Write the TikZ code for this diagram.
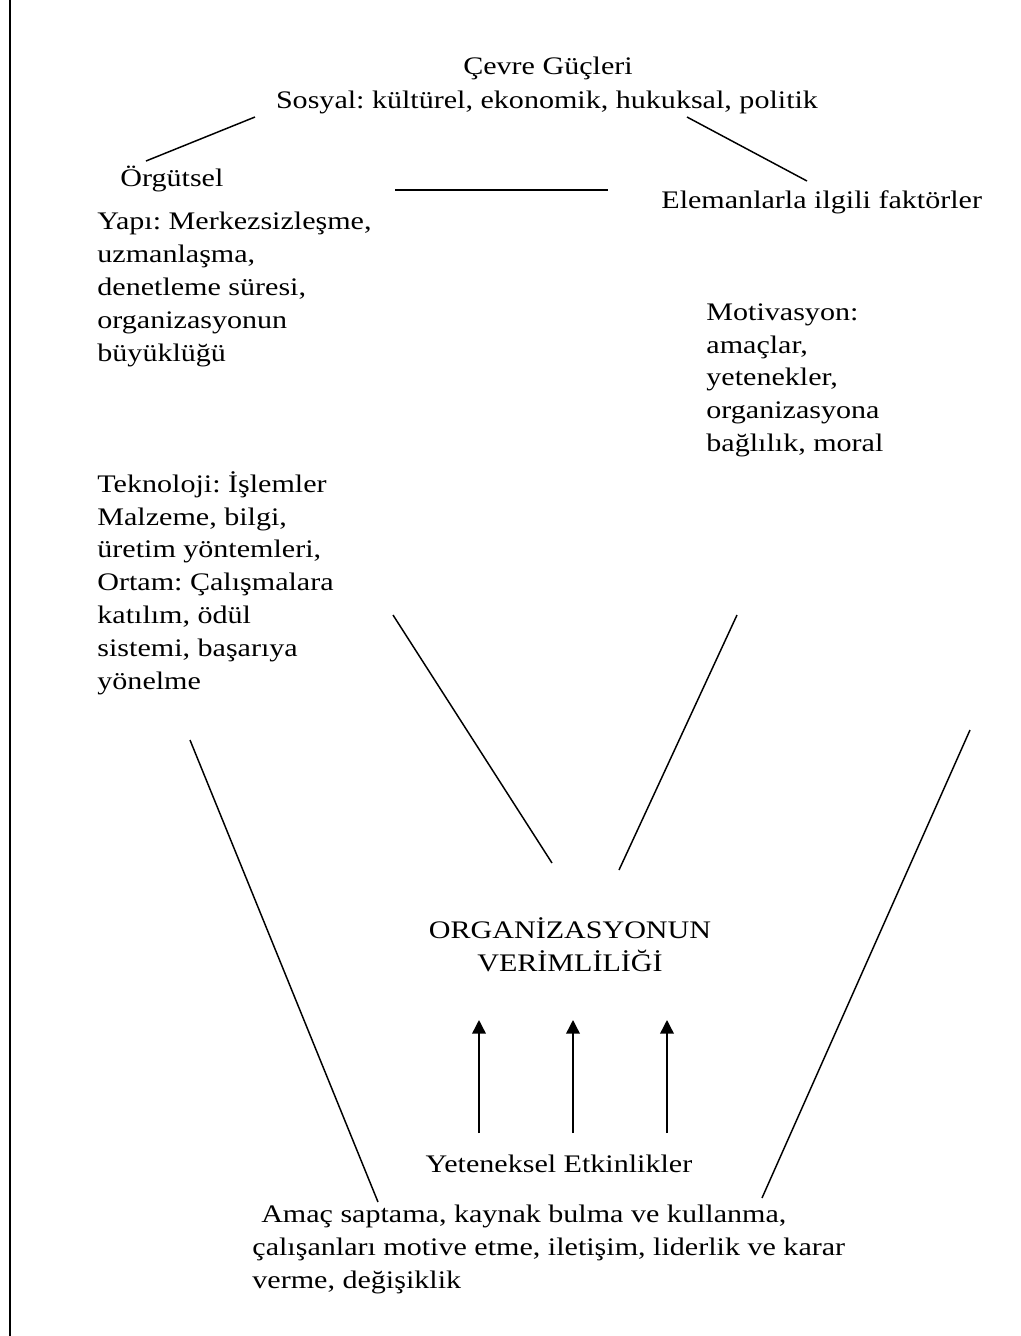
\documentclass[tikz,border=0pt]{standalone}
\usepackage{fontspec}
\setmainfont{Liberation Serif}[FakeStretch=1.19]
\usetikzlibrary{arrows.meta}
\frenchspacing
\tikzset{
  txt/.style={inner sep=0pt, align=left, font=\fontsize{12}{15.6}\selectfont\frenchspacing},
  ctxt/.style={txt, align=center},
  link/.style={line width=0.7pt},
  uparrow/.style={line width=0.7pt, -{Triangle[width=6.5pt,length=6.5pt]}},
}
\begin{document}
\begin{tikzpicture}[x=0.475pt, y=-0.475pt]
  \useasboundingbox (0,0) rectangle (1020,1336);
  % left margin rule
  \coordinate (mtop) at (10,0);
  \coordinate (mbot) at (10,1336);
  \draw[line width=1pt] (mtop) -- (mbot);

  % environment
  \node[ctxt, anchor=base] (cevre) at (548,74) {Çevre Güçleri};
  \node[ctxt, anchor=base] (sosyal) at (547,108) {Sosyal: kültürel, ekonomik, hukuksal, politik};

  % three groups of factors
  \node[txt, anchor=base west] (orgutsel) at (120,186) {Örgütsel};
  \node[txt, anchor=base west] (eleman) at (661,208) {Elemanlarla ilgili faktörler};
  \node[txt, anchor=north west] (yapi) at (97,212) {Yapı: Merkezsizleşme,\\uzmanlaşma,\\denetleme süresi,\\organizasyonun\\büyüklüğü};
  \node[txt, anchor=north west] (motiv) at (706,303) {Motivasyon:\\amaçlar,\\yetenekler,\\organizasyona\\bağlılık, moral};
  \node[txt, anchor=north west] (tekno) at (97,471) {Teknoloji: İşlemler\\Malzeme, bilgi,\\üretim yöntemleri,\\Ortam: Çalışmalara\\katılım, ödül\\sistemi, başarıya\\yönelme};

  % centre
  \node[ctxt, anchor=north] (verim) at (570,917) {ORGANİZASYONUN\\VERİMLİLİĞİ};
  \node[ctxt, anchor=base] (yetenek) at (559,1172) {Yeteneksel Etkinlikler};
  \node[txt, anchor=north west] (amac) at (252,1205) {\hspace*{0.35em}Amaç saptama, kaynak bulma ve kullanma,\\çalışanları motive etme, iletişim, liderlik ve karar\\verme, değişiklik};

  % line ends
  \coordinate (a1) at (255,117);
  \coordinate (a2) at (146,161);
  \coordinate (b1) at (687,117);
  \coordinate (b2) at (807,181);
  \coordinate (c1) at (395,190);
  \coordinate (c2) at (608,190);
  \coordinate (d1) at (393,615);
  \coordinate (d2) at (552,863);
  \coordinate (e1) at (737,615);
  \coordinate (e2) at (619,870);
  \coordinate (f1) at (190,740);
  \coordinate (f2) at (378,1202);
  \coordinate (g1) at (970,730);
  \coordinate (g2) at (762,1198);

  \draw[link] (a1) -- (a2);
  \draw[link] (b1) -- (b2);
  \draw[link] (c1) -- (c2);
  \draw[link] (d1) -- (d2);
  \draw[link] (e1) -- (e2);
  \draw[link] (f1) -- (f2);
  \draw[link] (g1) -- (g2);

  % arrows
  \foreach \x [count=\i] in {479,573,667} {
    \coordinate (p\i) at (\x,1133);
    \coordinate (q\i) at (\x,1020);
    \draw[uparrow] (p\i) -- (q\i);
  }
\end{tikzpicture}
\end{document}
